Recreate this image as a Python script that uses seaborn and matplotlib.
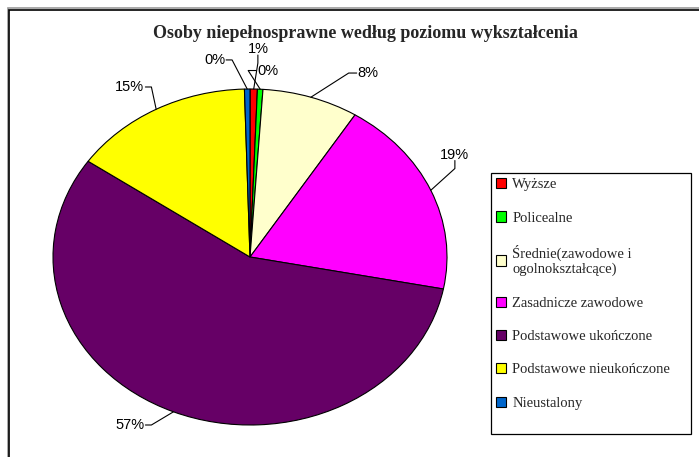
import matplotlib
matplotlib.use("Agg")
import numpy as np
import matplotlib.pyplot as plt
import seaborn as sns
from matplotlib.patches import Rectangle
from matplotlib.lines import Line2D

# Data
categories = ["Wyższe", "Policealne", "Średnie(zawodowe i\nogolnokształcące)",
              "Zasadnicze zawodowe", "Podstawowe ukończone",
              "Podstawowe nieukończone", "Nieustalony"]
shares = [0.6, 0.45, 7.9, 19.1, 56.6, 14.9, 0.45]
colors = ["#FF0000", "#00FF00", "#FFFFCC", "#FF00FF", "#660066", "#FFFF00", "#0066CC"]
title = "Osoby niepełnosprawne według poziomu wykształcenia"

# label layout: text centre in pie units and the edge the leader line leaves from
label_pos = [(0.04, 1.238), (0.09, 1.11), (0.60, 1.095), (1.04, 0.61),
             (-0.61, -1.0), (-0.61, 1.012), (-0.18, 1.173)]
label_side = ["bottom", "left", "left", "bottom", "right", "right", "right"]

sns.set_theme(style="white")
plt.rcParams["font.family"] = ["Liberation Sans", "DejaVu Sans"]

fig = plt.figure(figsize=(6.99, 4.57), dpi=100)
W, H = 699, 457

# outer chart frame (right and bottom edges lie outside the picture)
fig.add_artist(Rectangle((7.5 / W, -0.1), 1.2, 1.1 - 8.5 / H, transform=fig.transFigure,
                         fill=False, edgecolor="#999999", lw=1.2))
fig.add_artist(Rectangle((9 / W, -0.1), 1.2, 1.1 - 10 / H, transform=fig.transFigure,
                         fill=False, edgecolor="black", lw=1.2))

# pie axes (stretched like the original, so the pie is an ellipse)
ax = fig.add_axes([53 / W, 1 - 425 / H, 394 / W, 336 / H])
palette = sns.color_palette(colors)
wedges, _ = ax.pie(shares, colors=palette, startangle=90, counterclock=False,
                   wedgeprops=dict(edgecolor="black", linewidth=0.8))
ax.set_aspect("auto")
ax.set_xlim(-1, 1)
ax.set_ylim(-1, 1)
ax.axis("off")
for w in wedges:
    w.set_clip_on(False)

total = sum(shares)
texts = []
anchors = []
for w, s, pos in zip(wedges, shares, label_pos):
    mid = np.deg2rad((w.theta1 + w.theta2) / 2)
    anchors.append((np.cos(mid), np.sin(mid)))
    t = ax.text(pos[0], pos[1], f"{s / total * 100:.0f}%", ha="center", va="center",
                fontsize=10.5, color="black", clip_on=False)
    texts.append(t)

# Excel-style leader lines: short straight piece at the label, then to the slice
fig.canvas.draw()
renderer = fig.canvas.get_renderer()
to_fig = fig.transFigure.inverted()
for t, anc, side in zip(texts, anchors, label_side):
    bb = t.get_window_extent(renderer)
    cy = (bb.y0 + bb.y1) / 2
    if side == "left":
        p0 = (bb.x0 - 1, cy)
        p1 = (bb.x0 - 9, cy)
    elif side == "right":
        p0 = (bb.x1 + 1, cy)
        p1 = (bb.x1 + 7, cy)
    else:
        cx = (bb.x0 + bb.x1) / 2
        p0 = (cx, bb.y0 + 1)
        p1 = (cx, bb.y0 - 7)
    p2 = ax.transData.transform(anc)
    pts = to_fig.transform([p0, p1, p2])
    fig.add_artist(Line2D(pts[:, 0], pts[:, 1], transform=fig.transFigure,
                          color="black", lw=0.8))

# title
fig.text(365 / W, 1 - 38 / H, title, ha="center", va="baseline",
         family="Liberation Serif", fontweight="bold", fontsize=13)

# legend: entries without frame, box drawn separately so it spans the full height
leg_box = (491 / W, 1 - 434 / H, 200 / W, 261 / H)
fig.add_artist(Rectangle(leg_box[:2], leg_box[2], leg_box[3], transform=fig.transFigure,
                         fill=False, edgecolor="black", lw=0.9))
handles = [Rectangle((0, 0), 1, 1, facecolor=c, edgecolor="black", lw=0.8) for c in palette]
leg = fig.legend(handles, categories, loc="upper left",
                 bbox_to_anchor=leg_box, mode="expand", frameon=False,
                 prop={"family": "Liberation Serif", "size": 10.5},
                 labelspacing=1.38, handlelength=0.7, handleheight=0.7,
                 handletextpad=0.4, borderpad=0.35, borderaxespad=0)

fig.savefig("out.png", dpi=100)
